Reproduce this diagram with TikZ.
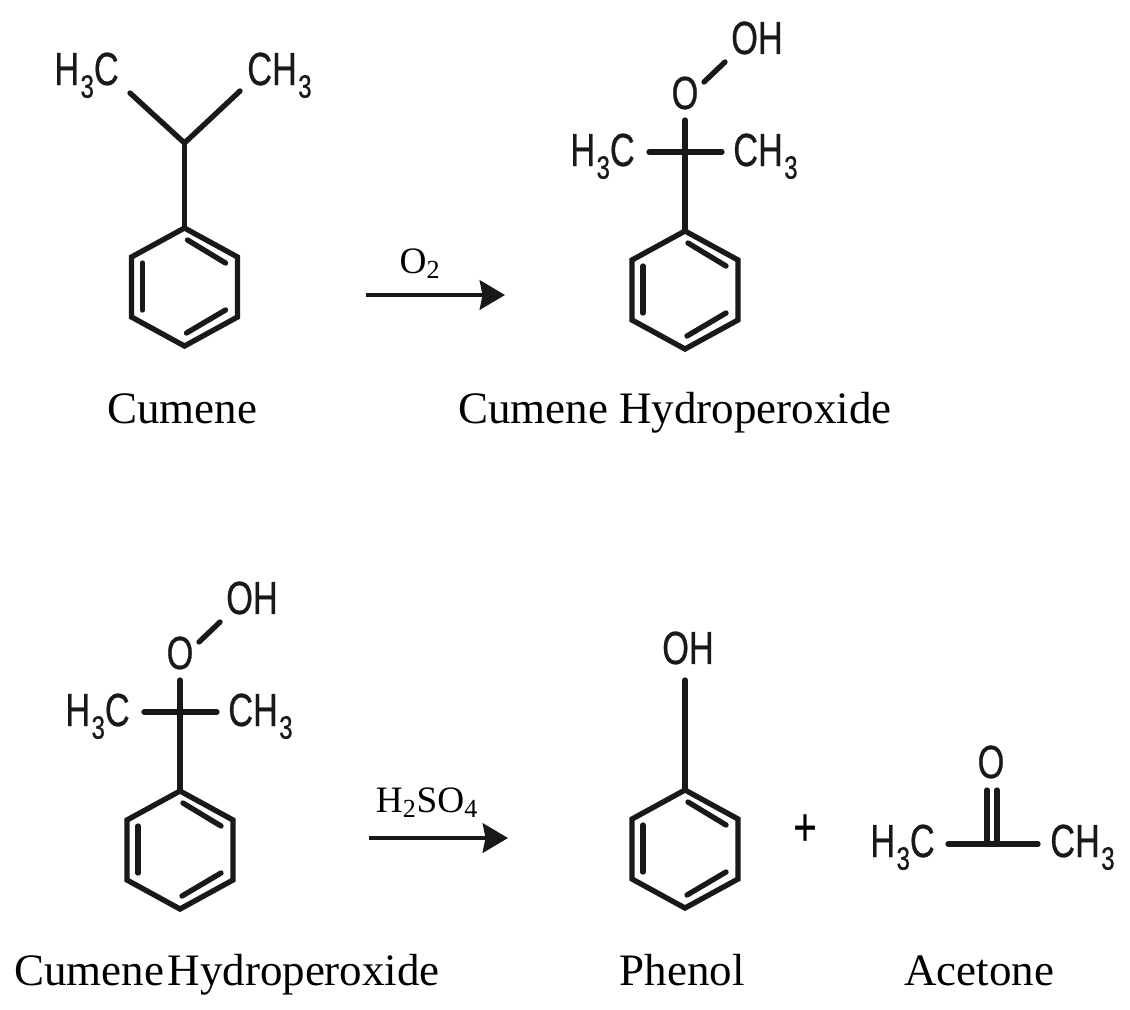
\documentclass[tikz,border=0pt]{standalone}
\usepackage{fontspec}
\setmainfont{Liberation Serif}
\newfontfamily\chemfont[FakeStretch=0.74,FakeBold=0.6]{Liberation Sans}
\usetikzlibrary{arrows.meta}
\tikzset{
  bond/.style={line width=3.8pt,line cap=round,line join=miter,black!90},
  formula/.style={font=\chemfont\fontsize{33}{33}\selectfont,inner sep=0pt,text=black!90},
  caption/.style={font=\fontsize{32}{32}\selectfont,inner sep=0pt,anchor=base,text=black},
  reagent/.style={font=\fontsize{26.5}{26.5}\selectfont,inner sep=0pt,anchor=base,text=black},
  reaction/.style={line width=2.5pt,black!90,-{Stealth[length=18pt,width=21pt,inset=2pt]}}
}
% lowered subscript of the formulas
\newcommand{\three}{\kern1pt\raisebox{-9pt}{\fontsize{23}{23}\selectfont 3}}
% benzene ring: name, centre
\newcommand{\phring}[3]{
  \begin{scope}[shift={(#2,#3)}]
    \coordinate (#1a) at (0,-59);
    \coordinate (#1b) at (53,-30);
    \coordinate (#1c) at (53,30);
    \coordinate (#1d) at (0,59);
    \coordinate (#1e) at (-53,30);
    \coordinate (#1f) at (-53,-30);
    \draw[bond] (#1a) -- (#1b) -- (#1c) -- (#1d) -- (#1e) -- (#1f) -- cycle;
    \coordinate (#1p) at (3,-47);
    \coordinate (#1q) at (41,-24);
    \coordinate (#1r) at (41,23);
    \coordinate (#1s) at (2,46);
    \coordinate (#1t) at (-42,23);
    \coordinate (#1u) at (-42,-24);
    \draw[bond] (#1p) -- (#1q);
    \draw[bond] (#1r) -- (#1s);
    \draw[bond] (#1t) -- (#1u);
  \end{scope}
}
% cumene hydroperoxide: name, ring centre
\newcommand{\hydroperoxide}[3]{
  \phring{#1}{#2}{#3}
  \begin{scope}[shift={(#2,#3)}]
    \node[formula] (#1oh) at (72,-252) {OH};
    \node[formula] (#1o) at (0,-197) {O};
    \node[formula,anchor=base east] (#1me) at (-50,-124) {H\three C};
    \node[formula,anchor=base west] (#1mf) at (48,-124) {CH\three};
    \draw[bond] ([shift={(0,27)}]#1o.center) -- (#1a);
    \draw[bond] ([shift={(14,-14)}]#1me.base east) -- ([shift={(-11,-14)}]#1mf.base west);
    \draw[bond] ([shift={(-32,24)}]#1oh.center) -- ([shift={(19,-11)}]#1o.center);
  \end{scope}
}
\begin{document}
\begin{tikzpicture}[x=0.025cm,y=-0.025cm]
  \useasboundingbox (0,0) rectangle (1130,1009);

  % cumene
  \phring{cu}{184.5}{287}
  \node[formula,anchor=base east] (cume) at (119,85) {H\three C};
  \node[formula,anchor=base west] (cumf) at (247,85) {CH\three};
  \coordinate (cux) at (184.5,143);
  \draw[bond] ([shift={(11,8)}]cume.base east) -- (cux) -- ([shift={(-7,6)}]cumf.base west);
  \draw[bond] (cux) -- (cua);
  \node[caption] (cap1) at (182,423) {Cumene};

  % first step
  \coordinate (s1) at (366,295);
  \coordinate (e1) at (505,295);
  \draw[reaction] (s1) -- (e1);
  \node[reagent] (o2) at (420,273) {O\textsubscript{2}};

  \hydroperoxide{hp}{685}{290}
  \node[caption] (cap2) at (675,423) {Cumene Hydroperoxide};

  % second step
  \hydroperoxide{hq}{180}{850}
  \node[caption] (cap3) at (227,985) {Cumene\hspace{2.5pt}Hydroperoxide};

  \coordinate (s2) at (369,838);
  \coordinate (e2) at (508,838);
  \draw[reaction] (s2) -- (e2);
  \node[reagent] (acid) at (427,812) {H\textsubscript{2}SO\textsubscript{4}};

  % phenol
  \phring{ph}{685}{849}
  \node[formula] (phoh) at (688,648) {OH};
  \draw[bond] ([shift={(-3,32)}]phoh.center) -- (pha);
  \node[caption] (cap4) at (682,985) {Phenol};

  \node[font=\chemfont\fontsize{38}{38}\selectfont,inner sep=0pt] (plus) at (805,830) {+};

  % acetone
  \node[formula] (aco) at (991,762) {O};
  \node[formula,anchor=base east] (acme) at (935,857) {H\three C};
  \node[formula,anchor=base west] (acmf) at (1050,857) {CH\three};
  \coordinate (acx) at (992,844);
  \coordinate (acl) at (987,844);
  \coordinate (acr) at (997,844);
  \coordinate (acp) at (987,790);
  \coordinate (acq) at (997,790);
  \draw[bond] ([shift={(13,-13)}]acme.base east) -- (acx) -- ([shift={(-12,-13)}]acmf.base west);
  \draw[bond] (acp) -- (acl);
  \draw[bond] (acq) -- (acr);
  \node[caption] (cap5) at (979,985) {Acetone};
\end{tikzpicture}
\end{document}
